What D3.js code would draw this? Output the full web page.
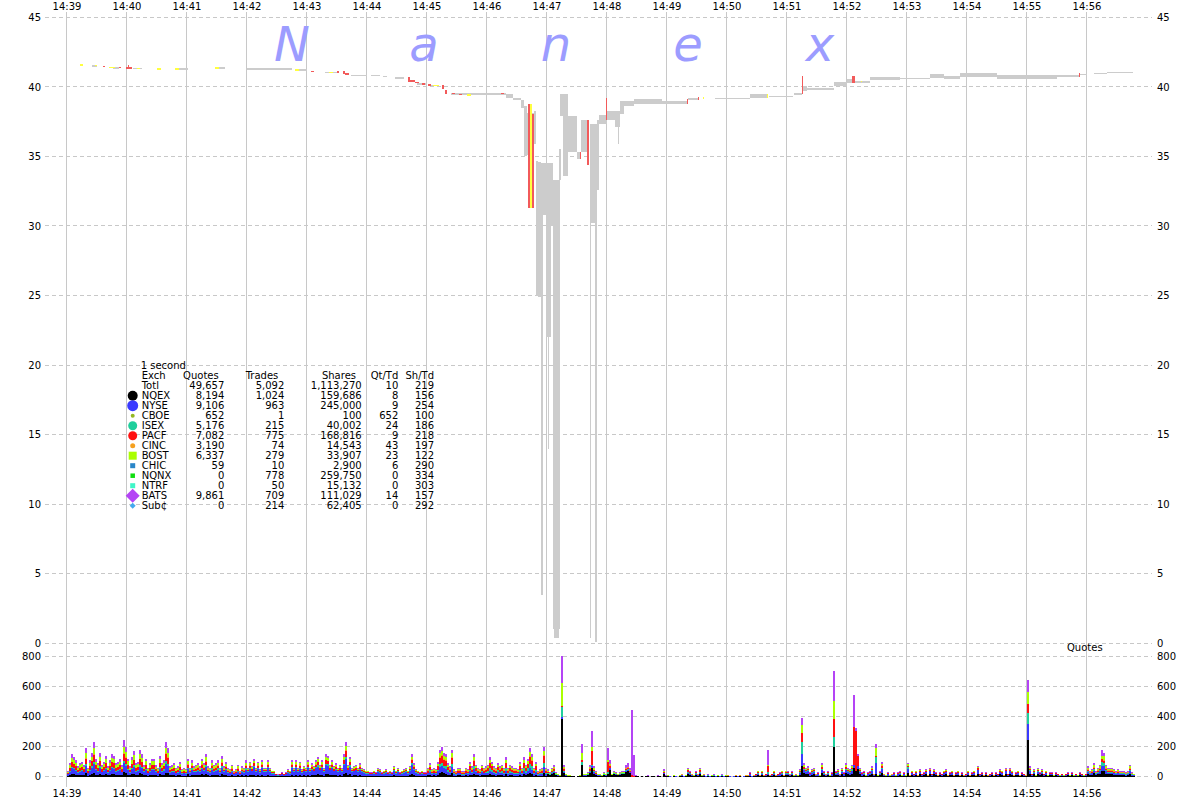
<!DOCTYPE html>
<html><head><meta charset="utf-8">
<script src="https://cdn.jsdelivr.net/npm/d3@7"></script>
<style>
body{margin:0;background:#fff}
svg{display:block}
text{font-family:"DejaVu Sans",Verdana,sans-serif;font-size:10px;fill:#000}
</style>
</head><body>
<svg id="c" width="1200" height="800"></svg>
<script>
// ---------------- DATA ----------------
const minuteLabels = ["14:39","14:40","14:41","14:42","14:43","14:44","14:45","14:46","14:47","14:48","14:49","14:50","14:51","14:52","14:53","14:54","14:55","14:56"];
const priceTicks = [0,5,10,15,20,25,30,35,40,45];
const quoteTicks = [0,200,400,600,800];

// quote counts per 2-second bin, starting 14:39:00 (one line per minute)
const quotesPer2s = [
 40,90,150,130,110,70,90,100,80,190,60,110,160,230,120,90,160,80,100,140,70,110,150,140,90,100,120,80,240,200,
 120,70,130,170,90,100,180,150,80,120,60,90,120,120,80,60,140,90,110,230,190,70,80,90,60,70,100,50,60,50,
 120,60,110,70,80,90,70,120,90,150,70,60,110,80,90,110,60,140,70,100,60,50,80,40,50,80,40,70,60,110,
 60,100,70,120,60,100,50,110,60,60,110,60,40,40,20,15,20,30,20,30,50,40,110,60,110,60,100,50,70,60,
 110,60,90,70,110,130,80,110,60,150,140,80,110,70,90,60,80,60,150,230,80,130,60,70,80,60,90,60,50,40,
 40,30,30,40,30,60,50,30,40,50,30,40,30,70,40,60,30,40,50,60,40,70,150,90,50,40,30,40,30,30,
 60,90,50,60,50,100,180,200,160,150,90,70,180,50,40,60,60,40,40,60,50,100,70,150,80,60,50,80,60,70,
 80,130,100,70,60,90,70,80,60,130,60,80,70,60,60,50,100,60,130,80,120,190,150,60,100,40,50,60,200,60,
 50,30,60,80,30,20,10,800,80,20,10,10,5,5,0,5,10,220,20,20,30,80,300,70,40,20,20,10,30,20,
 190,110,20,40,30,20,30,40,40,80,90,60,440,145,10,5,0,5,0,5,10,0,5,5,0,10,5,0,50,10,
 10,5,0,10,5,0,10,20,5,10,60,40,20,10,40,20,60,10,20,5,15,5,10,15,5,10,5,15,5,10,
 10,5,0,5,10,5,10,0,5,10,10,30,5,10,20,40,10,40,10,20,180,10,20,40,10,20,30,40,10,40,
 40,20,40,10,20,10,50,390,90,60,70,30,50,60,20,30,10,90,40,20,40,10,30,700,40,50,20,60,30,90,
 60,50,80,540,320,150,60,30,40,10,30,40,70,20,220,10,40,100,20,10,30,10,20,30,10,30,40,10,30,10,
 90,10,40,20,40,10,50,20,30,50,10,60,20,50,30,10,30,20,40,50,10,30,40,10,30,40,10,30,10,20,
 40,10,30,40,10,70,20,30,10,30,10,20,30,10,30,20,50,40,10,60,20,60,40,10,30,40,10,30,20,10,
 640,70,20,50,10,60,30,50,20,40,10,30,30,10,30,20,10,20,10,20,30,10,30,10,20,10,30,20,10,20,
 70,40,50,90,40,60,80,180,160,80,60,60,60,50,40,50,40,40,40,30,40,80,30,20
];

// exchanges stacked in the quote chart (bottom to top)
const stackExchanges = ["NQEX","NYSE","ISEX","PACF","CINC","BOST","BATS"];
// share of quotes per exchange, one row per minute (same order as stackExchanges)
const mixByMinute = [
 [12,25,6,20,3,17,17],[12,25,7,20,3,17,16],[13,30,7,17,3,15,15],[12,40,6,15,3,12,12],
 [12,40,6,15,3,12,12],[12,40,8,14,3,11,12],[14,22,10,22,4,14,14],[13,18,15,22,4,14,14],
 [30,10,10,15,3,12,20],[40,10,5,10,3,7,25],[25,20,10,15,5,10,15],[25,25,10,15,5,8,12],
 [25,25,10,12,3,10,15],[25,25,10,12,3,10,15],[30,30,8,10,4,8,10],[30,30,8,10,4,8,10],
 [30,25,8,10,4,10,13],[25,20,10,12,4,14,15]
];
// individual bins with their own mix: [second offset from 14:39:00, shares...]
const spikeMixes = [
 [494,385,10,65,10,0,150,180],[514,80,0,20,10,0,50,60],[524,60,10,10,90,0,30,100],
 [540,20,0,10,70,0,10,80],[564,0,0,0,10,0,0,430],[566,0,0,0,5,0,0,140],
 [700,10,10,10,40,0,10,100],[734,70,80,80,60,0,50,50],[766,200,0,60,120,0,120,200],
 [786,60,20,0,250,0,0,210],[788,40,0,0,260,0,0,20],[790,50,20,0,70,0,0,10],
 [808,20,70,40,10,0,50,30],[960,240,110,70,60,0,80,80],[1034,40,30,30,20,0,20,40]
];

// NBBO (bid..ask) ranges: [t0 sec, t1 sec, low, high]
const nbboRanges = [
 [25,30,41.53,41.57],[46,52,41.38,41.42],[66,75,41.33,41.37],[112,121,41.31,41.35],
 [150,158,41.38,41.42],[180,225,41.31,41.35],[232,240,41.24,41.27],[258,262,41.07,41.1],
 [266,270,41.07,41.1],[284,300,40.82,40.86],[304,313,40.82,40.86],[316,320,40.77,40.81],
 [328,337,40.66,40.7],[350,360,40.22,40.26],[362,372,40.08,40.14],[384,406,39.42,39.56],
 [406,434,39.44,39.56],[434,439,39.45,39.57],[439,446,39.2,39.5],[446,454,39.05,39.2],
 [454,457,38.5,39.05],[457,460,35.0,38.6],[460,467,35.1,38.1],[467,469,35.9,38.3],
 [469,471,25.0,34.7],[471,474,24.9,34.6],[474,476,3.5,34.5],[476,479,30.8,34.5],
 [479,484,22.0,34.5],[481,482,14.0,22.0],[484,486,30.0,34.5],[486,493,1.0,33.3],
 [487,492,0.4,1.0],[492,494,33.3,35.5],[493,496,37.9,39.5],[496,501,33.6,39.5],
 [501,510,35.3,37.9],[510,514,34.8,35.3],[514,520,35.3,37.6],[520,522,34.4,37.6],
 [523,524,0.4,37.3],[524,528,30.2,37.3],[528,530,0.1,37.3],[530,532,32.6,37.6],
 [532,540,37.3,38.0],[540,548,37.6,38.3],[548,553,37.1,38.3],[551,552,35.9,37.1],
 [553,557,38.05,39.0],[557,567,38.63,39.0],[567,595,38.8,39.11],[595,620,38.8,39.0],
 [621,632,39.04,39.19],[648,683,39.17,39.21],[683,701,39.23,39.47],[702,726,39.33,39.37],
 [727,735,39.4,39.55],[736,740,39.7,40.07],[740,767,39.76,39.95],[767,780,40.07,40.38],
 [780,788,40.31,40.55],[788,803,40.31,40.43],[803,833,40.48,40.74],[833,863,40.55,40.67],
 [863,877,40.67,40.96],[877,893,40.55,40.79],[893,930,40.74,40.98],[930,990,40.55,40.86],
 [990,1012,40.74,40.86],[1013,1020,40.9,40.93],[1027,1040,40.98,41.01],[1040,1066,41.06,41.09]
];

// trade price ranges: [t0, t1, low, high, exchange]
const tradeRanges = [
 [13,16,41.6,41.64,"BOST"],[28,30,41.55,41.58,"BOST"],[36,38,41.47,41.51,"PACF"],
 [42,48,41.4,41.43,"BOST"],[52,54,41.4,41.44,"PACF"],[61,62,41.27,41.55,"PACF"],
 [59,65,41.38,41.41,"PACF"],[70,73,41.33,41.36,"BOST"],[90,94,41.31,41.35,"BOST"],
 [108,112,41.31,41.35,"BOST"],[148,152,41.38,41.42,"BOST"],[228,232,41.24,41.27,"BOST"],
 [244,247,41.12,41.16,"PACF"],[262,266,41.07,41.1,"BOST"],[270,272,41.07,41.11,"PACF"],
 [276,278,40.95,41.12,"PACF"],[278,282,40.93,40.97,"PACF"],[341,343,40.38,40.72,"PACF"],
 [343,348,40.35,40.48,"PACF"],[348,352,40.3,40.36,"PACF"],[355,358,40.22,40.27,"PACF"],
 [361,364,40.14,40.18,"PACF"],[366,372,40.1,40.14,"BOST"],[375,377,39.88,40.14,"PACF"],
 [378,380,39.5,39.76,"PACF"],[385,388,39.48,39.56,"PACF"],[392,395,39.45,39.5,"PACF"],
 [400,404,39.42,39.47,"BOST"],[434,437,39.52,39.58,"PACF"],[461,463,31.3,38.76,"PACF"],
 [463,465,31.3,38.76,"BOST"],[465,467,31.3,38.05,"PACF"],[513,514,34.8,35.3,"PACF"],
 [520,522,34.4,37.6,"PACF"],[539,540,37.6,39.2,"PACF"],[620,621,38.8,39.15,"PACF"],
 [631,632,39.04,39.24,"PACF"],[636,637,39.2,39.24,"BOST"],[700,701,39.23,39.47,"BOST"],
 [735,736,39.47,40.8,"PACF"],[785,788,40.31,40.8,"PACF"],[794,795,40.35,40.43,"BOST"],
 [1012,1013,40.74,41.03,"PACF"]
];

// legend table
const legendExch = ["Totl","NQEX","NYSE","CBOE","ISEX","PACF","CINC","BOST","CHIC","NQNX","NTRF","BATS","Sub¢"];
const legendQuotes = [49657,8194,9106,652,5176,7082,3190,6337,59,0,0,9861,0];
const legendTrades = [5092,1024,963,1,215,775,74,279,10,778,50,709,214];
const legendShares = [1113270,159686,245000,100,40002,168816,14543,33907,2900,259750,15132,111029,62405];
const legendQtTd = [10,8,9,652,24,9,43,23,6,0,0,14,0];
const legendShTd = [219,156,254,100,186,218,197,122,290,334,303,157,292];
const watermark = ["N","a","n","e","x"];

// ---------------- STYLE ----------------
const exchColor = {NQEX:"#000000",NYSE:"#3a3aff",CBOE:"#96b823",ISEX:"#1fcf9c",PACF:"#ff1010",
  CINC:"#f5a020",BOST:"#aaff00",CHIC:"#2a86c8",NQNX:"#10dd10",NTRF:"#40f5c8",BATS:"#b444f5","Sub¢":"#44aaee"};
const tradeColor = {PACF:"#f25a5a",BOST:"#ffff40"};
const markerStyle = {
  NQEX:["circle",5],NYSE:["circle",5.5],CBOE:["circle",2],ISEX:["circle",4.5],PACF:["circle",4.5],
  CINC:["circle",2.5],BOST:["square",8],CHIC:["square",5],NQNX:["square",4.5],NTRF:["square",5],
  BATS:["diamond",7],"Sub¢":["diamond",3]
};
const gridColor = "#c8c8c8";

// ---------------- SCALES ----------------
const svg = d3.select("#c");
const T = s => new Date(2010,4,6,14,39,s);
const x = d3.scaleTime().domain([T(0),T(1080)]).range([66.5,1146.5]);
const yP = d3.scaleLinear().domain([0,45]).range([643.3,17.3]);
const yQ = d3.scaleLinear().domain([0,800]).range([776.7,656]);
const tickTimes = minuteLabels.map(l => { const [h,m] = l.split(":"); return new Date(2010,4,6,+h,+m,0); });
const fmtMin = d3.timeFormat("%H:%M");

// ---------------- GRID ----------------
const grid = svg.append("g").attr("shape-rendering","crispEdges");
grid.selectAll("line.v").data(tickTimes).join("line")
  .attr("x1",d=>x(d)).attr("x2",d=>x(d)).attr("y1",12).attr("y2",787)
  .attr("stroke",gridColor).attr("stroke-width",1);
grid.selectAll("line.hp").data(priceTicks).join("line").attr("class","hp")
  .attr("x1",45).attr("x2",1152).attr("y1",d=>yP(d)).attr("y2",d=>yP(d))
  .attr("stroke",gridColor).attr("stroke-dasharray","4,3");
grid.selectAll("line.hq").data(quoteTicks).join("line").attr("class","hq")
  .attr("x1",45).attr("x2",1152).attr("y1",d=>yQ(d)).attr("y2",d=>yQ(d))
  .attr("stroke",gridColor).attr("stroke-dasharray","4,3");

// ---------------- AXES ----------------
function styleAxis(g){ g.select(".domain").remove(); g.selectAll(".tick line").remove();
  g.attr("font-family",null).attr("font-size",null); g.selectAll("text").attr("fill","#000"); }
svg.append("g").attr("transform","translate(0,10)")
  .call(d3.axisTop(x).tickValues(tickTimes).tickFormat(fmtMin).tickSize(0).tickPadding(0)).call(styleAxis);
svg.append("g").attr("transform","translate(0,787)")
  .call(d3.axisBottom(x).tickValues(tickTimes).tickFormat(fmtMin).tickSize(0).tickPadding(3)).call(styleAxis);
svg.append("g").attr("transform","translate(41,0)")
  .call(d3.axisLeft(yP).tickValues(priceTicks).tickFormat(d3.format("d")).tickSize(0).tickPadding(0)).call(styleAxis);
svg.append("g").attr("transform","translate(1157,0)")
  .call(d3.axisRight(yP).tickValues(priceTicks).tickFormat(d3.format("d")).tickSize(0).tickPadding(0)).call(styleAxis);
svg.append("g").attr("transform","translate(41,0)")
  .call(d3.axisLeft(yQ).tickValues(quoteTicks).tickFormat(d3.format("d")).tickSize(0).tickPadding(0)).call(styleAxis);
svg.append("g").attr("transform","translate(1157,0)")
  .call(d3.axisRight(yQ).tickValues(quoteTicks).tickFormat(d3.format("d")).tickSize(0).tickPadding(0)).call(styleAxis);
svg.append("text").attr("x",1067).attr("y",651.3).text("Quotes");

// ---------------- WATERMARK ----------------
svg.selectAll("text.wm").data(watermark).join("text").attr("class","wm")
  .attr("x",(d,i)=>292+i*132).attr("y",61).attr("text-anchor","middle")
  .style("font-size","48px").style("font-style","italic").style("fill","#9c9cff").text(d=>d);

// ---------------- PRICE CHART ----------------
const pg = svg.append("g").attr("shape-rendering","crispEdges");
pg.selectAll("rect.nbbo").data(nbboRanges).join("rect").attr("class","nbbo")
  .attr("x",d=>x(T(d[0]))).attr("width",d=>Math.max(1,x(T(d[1]))-x(T(d[0]))))
  .attr("y",d=>yP(d[3])).attr("height",d=>Math.max(1.5,yP(d[2])-yP(d[3])))
  .attr("fill","#cccccc");
pg.selectAll("rect.trade").data(tradeRanges).join("rect").attr("class","trade")
  .attr("x",d=>x(T(d[0]))).attr("width",d=>Math.max(1,x(T(d[1]))-x(T(d[0]))))
  .attr("y",d=>yP(d[3])).attr("height",d=>Math.max(1.5,yP(d[2])-yP(d[3])))
  .attr("fill",d=>tradeColor[d[4]]);

// ---------------- QUOTE CHART ----------------
const spikeMap = new Map(spikeMixes.map(r => [r[0], r.slice(1)]));
const table = quotesPer2s.map((total,i) => {
  const s = i*2;
  const w = spikeMap.get(s) || mixByMinute[Math.floor(s/60)];
  const sum = d3.sum(w);
  const row = {s};
  stackExchanges.forEach((k,j) => row[k] = sum ? total*w[j]/sum : 0);
  return row;
});
const series = d3.stack().keys(stackExchanges)(table);
const qg = svg.append("g").attr("shape-rendering","crispEdges");
qg.selectAll("g").data(series).join("g").attr("fill",d=>exchColor[d.key])
  .selectAll("rect").data(d=>d).join("rect")
  .attr("x",d=>x(T(d.data.s))).attr("width",d=>x(T(d.data.s+2))-x(T(d.data.s)))
  .attr("y",d=>yQ(d[1])).attr("height",d=>Math.max(0,yQ(d[0])-yQ(d[1])));

// ---------------- LEGEND ----------------
const lg = svg.append("g");
const rowY = i => 389.3 + i*10;   // baseline of data row i
const fmt = d3.format(",");
lg.append("text").attr("x",140.7).attr("y",369.3).text("1 second");
lg.append("text").attr("x",141.7).attr("y",379.3).text("Exch");
[["Quotes",218.7],["Trades",278.3],["Shares",356],["Qt/Td",398.3],["Sh/Td",434]].forEach(h =>
  lg.append("text").attr("x",h[1]).attr("y",379.3).attr("text-anchor","end").text(h[0]));
const cols = [[legendQuotes,224.3],[legendTrades,284.3],[legendShares,361.7],[legendQtTd,398.3],[legendShTd,434]];
legendExch.forEach((name,i) => {
  lg.append("text").attr("x",141.7).attr("y",rowY(i)).text(name);
  cols.forEach(c => lg.append("text").attr("x",c[1]).attr("y",rowY(i)).attr("text-anchor","end").text(fmt(c[0][i])));
  const ms = markerStyle[name];
  if (!ms) return;
  const cx = 132.7, cy = rowY(i) - 3.6, col = exchColor[name];
  if (ms[0]==="circle") lg.append("circle").attr("cx",cx).attr("cy",cy).attr("r",ms[1]).attr("fill",col);
  else if (ms[0]==="square") lg.append("rect").attr("x",cx-ms[1]/2).attr("y",cy-ms[1]/2).attr("width",ms[1]).attr("height",ms[1]).attr("fill",col);
  else lg.append("path").attr("d",`M${cx},${cy-ms[1]}L${cx+ms[1]},${cy}L${cx},${cy+ms[1]}L${cx-ms[1]},${cy}Z`).attr("fill",col);
});
</script>
</body></html>
